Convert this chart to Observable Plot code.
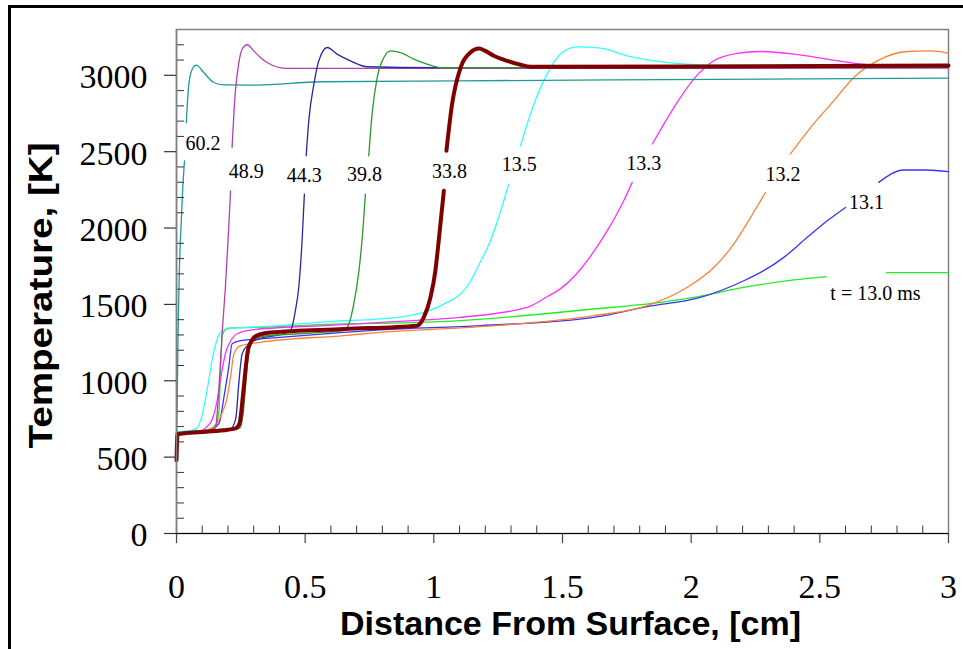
<!DOCTYPE html>
<html><head><meta charset="utf-8">
<script src="https://cdn.jsdelivr.net/npm/d3@7"></script>
<script src="https://cdn.jsdelivr.net/npm/@observablehq/plot@0.6"></script>
<style>
body{margin:0;background:#fff;}
#wrap{position:relative;width:963px;height:649px;overflow:hidden;background:#fff;}
#border{position:absolute;left:8px;top:5px;width:1000px;height:700px;border-left:3px solid #000;border-top:3px solid #000;pointer-events:none;}
</style></head><body><div id="wrap"><div id="chart"></div><div id="border"></div></div>
<script>
// ---- axis ticks ----
const xTicks = [0, 0.5, 1, 1.5, 2, 2.5, 3];
const xTickLabels = ["0", "0.5", "1", "1.5", "2", "2.5", "3"];
const yTicks = [0, 500, 1000, 1500, 2000, 2500, 3000];
const yTickLabels = ["0", "500", "1000", "1500", "2000", "2500", "3000"];
const xMinor = d3.range(1, 30).filter(i => i % 5 !== 0).map(i => i / 10);
const yMinor = d3.range(1, 33).filter(i => i % 5 !== 0).map(i => i * 100);

// ---- series: [distance cm, temperature K]; NaN = break where the label sits ----
const t130 = [[0,665],[0.12,680],[0.155,720],[0.165,805],[0.172,1100],[0.178,1300],[0.2,1345],[0.326,1350],[0.65,1372],[0.793,1376],[1.104,1394],[1.622,1470],[1.881,1513],[2.01,1546],[2.205,1612],[2.399,1660],[2.525,1682],[2.6,NaN],[2.759,1708],[3.0,1708]];
const t131 = [[0,658],[0.12,672],[0.165,720],[0.185,900],[0.203,1088],[0.216,1243],[0.249,1263],[0.326,1274],[0.65,1317],[0.793,1333],[1.181,1361],[1.622,1415],[1.829,1485],[2.036,1546],[2.205,1655],[2.282,1721],[2.36,1808],[2.451,1939],[2.529,2048],[2.6,2135],[2.65,NaN],[2.729,2299],[2.826,2380],[2.917,2380],[3.0,2369]];
const t132 = [[0,660],[0.1,670],[0.145,695],[0.175,780],[0.197,892],[0.212,1050],[0.223,1176],[0.249,1230],[0.326,1252],[0.65,1296],[0.793,1317],[1.181,1354],[1.622,1426],[1.829,1492],[1.985,1612],[2.088,1742],[2.166,1896],[2.231,2070],[2.289,2233],[2.33,NaN],[2.385,2484],[2.464,2658],[2.554,2833],[2.632,2986],[2.723,3095],[2.84,3156],[2.93,3160],[3.0,3145]];
const t133 = [[0,660],[0.08,668],[0.13,720],[0.158,870],[0.175,1050],[0.19,1177],[0.21,1260],[0.236,1308],[0.3,1335],[0.65,1367],[0.793,1383],[1.1,1415],[1.363,1481],[1.44,1550],[1.49,1600],[1.57,1730],[1.596,1786],[1.674,1983],[1.738,2179],[1.771,2299],[1.81,NaN],[1.849,2550],[1.933,2789],[2.01,2975],[2.088,3095],[2.179,3143],[2.27,3156],[2.399,3139],[2.529,3106],[2.645,3077],[2.75,3065],[3.0,3062]];
const t135 = [[0,665],[0.05,672],[0.08,690],[0.1,780],[0.12,950],[0.14,1150],[0.16,1280],[0.18,1330],[0.22,1345],[0.33,1354],[0.65,1394],[0.793,1405],[0.961,1448],[1.052,1513],[1.104,1568],[1.142,1650],[1.175,1760],[1.22,1917],[1.272,2179],[1.291,2288],[1.31,NaN],[1.337,2539],[1.389,2812],[1.44,3008],[1.492,3139],[1.557,3186],[1.648,3178],[1.751,3128],[1.881,3090],[1.985,3073],[2.1,3065],[3.0,3064]];
const t602 = [[0,620],[0.003,900],[0.006,1300],[0.01,1650],[0.016,1950],[0.024,2250],[0.031,2440],[0.034,NaN],[0.038,2690],[0.048,2942],[0.061,3040],[0.077,3067],[0.106,3018],[0.145,2953],[0.184,2938],[0.31,2936],[0.56,2958],[1.1,2964],[1.7,2970],[3.0,2982]];
const t489 = [[0,650],[0.1,660],[0.14,672],[0.152,695],[0.165,957],[0.178,1328],[0.19,1611],[0.203,2000],[0.21,2244],[0.213,NaN],[0.216,2528],[0.229,2900],[0.242,3080],[0.255,3171],[0.275,3200],[0.3,3160],[0.326,3117],[0.352,3084],[0.43,3045],[1.0,3045],[3.0,3048]];
const t443 = [[0,655],[0.15,675],[0.21,685],[0.23,750],[0.242,980],[0.255,1176],[0.281,1240],[0.33,1280],[0.4,1300],[0.443,1328],[0.462,1459],[0.475,1611],[0.488,1917],[0.497,2222],[0.5,NaN],[0.504,2473],[0.514,2702],[0.534,2942],[0.553,3095],[0.586,3182],[0.624,3139],[0.676,3095],[0.741,3056],[1.0,3050],[3.0,3052]];
const t398 = [[0,660],[0.2,685],[0.245,690],[0.26,800],[0.27,1000],[0.28,1180],[0.3,1270],[0.33,1290],[0.5,1310],[0.65,1328],[0.67,1372],[0.689,1503],[0.709,1721],[0.722,1939],[0.734,2222],[0.74,NaN],[0.747,2473],[0.76,2746],[0.78,2986],[0.806,3117],[0.832,3160],[0.871,3149],[0.922,3106],[0.974,3073],[1.026,3051],[1.5,3050],[3.0,3055]];
const t338 = [[0,480],[0.004,650],[0.1,665],[0.2,680],[0.23,688],[0.245,720],[0.258,900],[0.27,1100],[0.28,1218],[0.31,1294],[0.365,1316],[0.65,1339],[0.935,1361],[0.961,1415],[0.987,1546],[1.006,1721],[1.019,1917],[1.039,2244],[1.044,NaN],[1.049,2506],[1.071,2812],[1.104,3051],[1.142,3149],[1.175,3175],[1.2,3160],[1.233,3128],[1.285,3095],[1.337,3069],[1.376,3056],[2.0,3058],[3.0,3064]];

const seriesData = [t130, t131, t132, t133, t135, t602, t489, t443, t398, t338];
const seriesColors = ["#20ee20", "#3535ff", "#ff8030", "#ff30ff", "#30ffff", "#1f9a9a", "#b040b0", "#2828a0", "#2a9a2a", "#800000"];
const seriesWidths = [1.3, 1.3, 1.3, 1.3, 1.3, 1.3, 1.3, 1.3, 1.3, 4];

// ---- curve labels (time in ms) and where they sit ----
const labelText = ["t = 13.0 ms", "13.1", "13.2", "13.3", "13.5", "60.2", "48.9", "44.3", "39.8", "33.8"];
const labelX = [2.716, 2.681, 2.357, 1.816, 1.332, 0.103, 0.271, 0.496, 0.731, 1.061];
const labelT = [1574, 2166, 2349, 2424, 2414, 2556, 2370, 2342, 2348, 2372];

const labels = labelText.map((t, i) => ({t, x: labelX[i], y: labelT[i]}));
const serif = "'Liberation Serif', 'Times New Roman', serif";
const sans = "'Liberation Sans', Arial, sans-serif";

const lineMarks = seriesData.map((d, i) => Plot.line(d, {
  x: p => p[0], y: p => p[1], stroke: seriesColors[i], strokeWidth: seriesWidths[i], curve: "monotone-x"
}));

const chart = Plot.plot({
  width: 963, height: 649,
  marginLeft: 176, marginRight: 15, marginTop: 29, marginBottom: 116,
  x: {domain: [0, 3], axis: null},
  y: {domain: [0, 3300], axis: null},
  style: {background: "transparent", fontFamily: serif},
  marks: [
    Plot.frame({stroke: "#808080", strokeWidth: 1.5}),
    ...lineMarks,
    Plot.ruleX(xMinor, {y1: 0, y2: 49, stroke: "#333", strokeWidth: 1}),
    Plot.ruleX(xTicks, {y1: 0, y2: -66, stroke: "#444", strokeWidth: 1.2}),
    Plot.ruleY(yMinor, {x1: 0, x2: 0.031, stroke: "#333", strokeWidth: 1}),
    Plot.ruleY(yTicks, {x1: -0.0466, x2: 0, stroke: "#333", strokeWidth: 1.2}),
    Plot.ruleY([0], {stroke: "#000", strokeWidth: 1.2}),
    Plot.ruleX([0], {stroke: "#808080", strokeWidth: 1.5}),
    Plot.text(xTicks, {x: d => d, y: 0, text: (d, i) => xTickLabels[i], dy: 54, fontSize: 34, fontFamily: serif, fill: "#000"}),
    Plot.text(yTicks, {x: 0, y: d => d, text: (d, i) => yTickLabels[i], dx: -29, dy: 2, textAnchor: "end", fontSize: 34, fontFamily: serif, fill: "#000"}),
    Plot.text(labels, {x: "x", y: "y", text: "t", fontSize: 20, fontFamily: serif, fill: "#000"}),
    Plot.text(["Distance From Surface, [cm]"], {text: d => d, frameAnchor: "bottom", dx: 8, dy: 101, fontSize: 34, fontWeight: "bold", fontFamily: sans, fill: "#000"}),
    Plot.text(["Temperature, [K]"], {text: d => d, frameAnchor: "left", rotate: -90, textAnchor: "start", dx: -134.6, dy: 167, fontSize: 33, fontWeight: "bold", fontFamily: sans, fill: "#000"})
  ]
});
document.getElementById("chart").appendChild(chart);
d3.select(chart).selectAll("text").filter(function() { return this.textContent === "Temperature, [K]"; })
  .attr("textLength", 306).attr("lengthAdjust", "spacingAndGlyphs");
</script></body></html>
